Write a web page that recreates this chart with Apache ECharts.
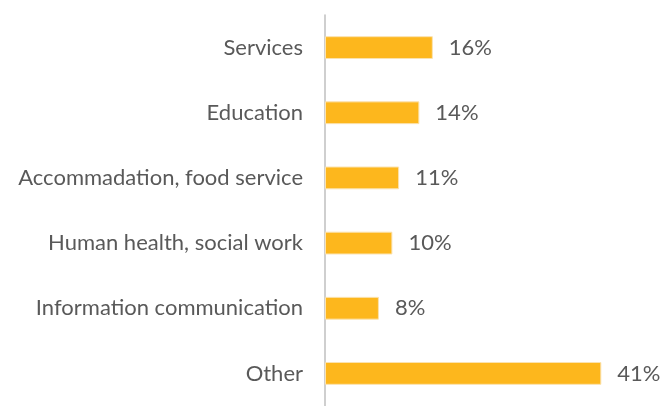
<!DOCTYPE html>
<html>
<head>
<meta charset="utf-8">
<script src="https://cdn.jsdelivr.net/npm/echarts@6/dist/echarts.min.js"></script>
<style>
  html, body { margin: 0; padding: 0; background: #ffffff; }
  #chart { width: 662px; height: 406px; }
</style>
</head>
<body>
<div id="chart"></div>
<script>
// Sectors, listed top to bottom
const categories = [
  'Services',
  'Education',
  'Accommadation, food service',
  'Human health, social work',
  'Information communication',
  'Other'
];
// Share of each sector, percent
const shares = [16, 14, 11, 10, 8, 41];

const chart = echarts.init(document.getElementById('chart'));
const textColor = '#595959';
const fontFamily = 'Lato, "Open Sans", sans-serif';

chart.setOption({
  animation: false,
  grid: { left: 325, top: 15, width: 340, height: 396, containLabel: false },
  xAxis: {
    type: 'value',
    min: 0,
    max: 50,
    show: false
  },
  yAxis: {
    type: 'category',
    inverse: true,
    data: categories,
    axisLine: { show: true, lineStyle: { color: '#bfbfbf', width: 1.5 } },
    axisTick: { show: false },
    axisLabel: {
      color: textColor,
      fontFamily: fontFamily,
      fontSize: 22,
      margin: 22
    }
  },
  series: [{
    type: 'bar',
    data: shares,
    barWidth: '35%',
    itemStyle: {
      color: '#fdb71d',
      borderColor: '#fbe3b0',
      borderWidth: 1
    },
    label: {
      show: true,
      position: 'right',
      distance: 16,
      color: textColor,
      fontFamily: fontFamily,
      fontSize: 22,
      formatter: p => p.value + '%'
    }
  }]
});
</script>
</body>
</html>
